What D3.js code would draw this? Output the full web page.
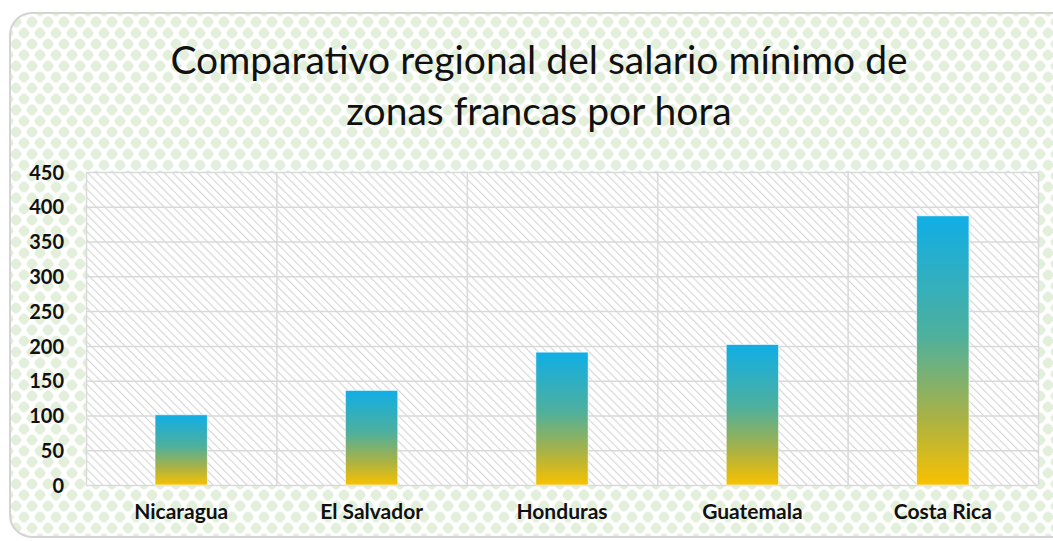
<!DOCTYPE html>
<html>
<head>
<meta charset="utf-8">
<script src="https://cdn.jsdelivr.net/npm/d3@7"></script>
<style>
  html, body { margin: 0; padding: 0; background: #fff; }
  svg { display: block; }
</style>
</head>
<body>
<div id="chart"></div>
<script>
// Chart data
const titleLines = ['Comparativo regional del salario mínimo de', 'zonas francas por hora'];
const countries = ['Nicaragua', 'El Salvador', 'Honduras', 'Guatemala', 'Costa Rica'];
const wages = [101, 136, 191, 202, 387];
const yTicks = [0, 50, 100, 150, 200, 250, 300, 350, 400, 450];

const W = 1053, H = 541;
const margin = { top: 172, right: 15, bottom: 56, left: 86 };
const plotW = W - margin.left - margin.right;
const plotH = H - margin.top - margin.bottom;

const svg = d3.select('#chart').append('svg')
    .attr('width', W)
    .attr('height', H);

const defs = svg.append('defs');

// green "sphere" pattern of the chart area
const bgPat = defs.append('pattern')
    .attr('id', 'bgPat')
    .attr('patternUnits', 'userSpaceOnUse')
    .attr('width', 16)
    .attr('height', 22);
bgPat.append('rect').attr('width', 16).attr('height', 22).attr('fill', '#fff');
[[0, 0], [16, 0], [8, 11], [0, 22], [16, 22]].forEach(([cx, cy]) => {
    bgPat.append('rect')
        .attr('x', cx - 4.5).attr('y', cy - 4.5)
        .attr('width', 9).attr('height', 9)
        .attr('rx', 2)
        .attr('transform', `rotate(45 ${cx} ${cy})`)
        .attr('fill', '#e2efda');
    bgPat.append('circle')
        .attr('cx', cx).attr('cy', cy).attr('r', 4.8)
        .attr('fill', '#e2efda');
});

// light diagonal hatch of the plot area
const hatch = defs.append('pattern')
    .attr('id', 'hatch')
    .attr('patternUnits', 'userSpaceOnUse')
    .attr('width', 6)
    .attr('height', 6)
    .attr('patternTransform', 'rotate(-45)');
hatch.append('rect').attr('width', 6).attr('height', 6).attr('fill', '#fff');
hatch.append('line')
    .attr('x1', 0).attr('y1', 0).attr('x2', 0).attr('y2', 6)
    .attr('stroke', '#d6d6d6')
    .attr('stroke-width', 2.2);

// per-bar gradient: blue on top, yellow at the base
const grad = defs.append('linearGradient')
    .attr('id', 'barGrad')
    .attr('x1', 0).attr('y1', 0).attr('x2', 0).attr('y2', 1);
[[0, '#10aee6'], [0.45, '#4fb09c'], [0.75, '#a9b245'], [1, '#f8c100']].forEach(([o, c]) => {
    grad.append('stop').attr('offset', o).attr('stop-color', c);
});

// chart frame
svg.append('rect')
    .attr('x', 10).attr('y', 13)
    .attr('width', W + 20).attr('height', 524)
    .attr('rx', 22)
    .attr('fill', 'url(#bgPat)')
    .attr('stroke', '#d4d4d4')
    .attr('stroke-width', 2);

// title
const title = svg.append('g')
    .attr('font-family', 'Lato, "Open Sans", sans-serif')
    .attr('fill', '#111');
title.selectAll('text')
    .data(titleLines)
    .enter()
    .append('text')
    .attr('x', 539)
    .attr('y', (d, i) => 74 + i * 51)
    .attr('text-anchor', 'middle')
    .style('font-size', '39px')
    .text(d => d);

const g = svg.append('g')
    .attr('transform', `translate(${margin.left},${margin.top})`);

const x = d3.scaleBand()
    .domain(countries)
    .range([0, plotW])
    .padding(0);

const y = d3.scaleLinear()
    .domain([0, 450])
    .range([plotH, 0]);

g.append('rect')
    .attr('width', plotW)
    .attr('height', plotH)
    .attr('fill', 'url(#hatch)');

// horizontal gridlines
g.selectAll('.hgrid')
    .data(yTicks)
    .enter()
    .append('line')
    .attr('x1', 0).attr('x2', plotW)
    .attr('y1', d => y(d) + 0.5).attr('y2', d => y(d) + 0.5)
    .attr('stroke', '#d9d9d9')
    .attr('stroke-width', 1.5);

// vertical gridlines at category boundaries
const bounds = countries.map(c => x(c)).concat([plotW]);
g.selectAll('.vgrid')
    .data(bounds)
    .enter()
    .append('line')
    .attr('x1', d => d + 0.5).attr('x2', d => d + 0.5)
    .attr('y1', 0).attr('y2', plotH)
    .attr('stroke', '#d9d9d9')
    .attr('stroke-width', 1.5);

// bars
const barW = x.bandwidth() * 0.275;
g.selectAll('.bar')
    .data(countries)
    .enter()
    .append('rect')
    .attr('class', 'bar')
    .attr('x', d => x(d) + (x.bandwidth() - barW) / 2)
    .attr('y', (d, i) => y(wages[i]))
    .attr('width', barW)
    .attr('height', (d, i) => plotH - y(wages[i]))
    .attr('fill', 'url(#barGrad)')
    .attr('stroke', '#fff')
    .attr('stroke-opacity', 0.6)
    .attr('stroke-width', 1);

// axes
const yAxis = g.append('g')
    .call(d3.axisLeft(y).tickValues(yTicks).tickSize(0).tickPadding(22));
yAxis.select('.domain').remove();
yAxis.selectAll('text')
    .attr('dy', '0.36em')
    .style('font-family', 'Lato, "Open Sans", sans-serif')
    .style('font-weight', 'bold')
    .style('font-size', '20px')
    .style('fill', '#111');

const xAxis = g.append('g')
    .attr('transform', `translate(0,${plotH})`)
    .call(d3.axisBottom(x).tickSize(0).tickPadding(19));
xAxis.select('.domain').remove();
xAxis.selectAll('text')
    .style('font-family', 'Lato, "Open Sans", sans-serif')
    .style('font-weight', 'bold')
    .style('font-size', '21px')
    .style('fill', '#111');
</script>
</body>
</html>
